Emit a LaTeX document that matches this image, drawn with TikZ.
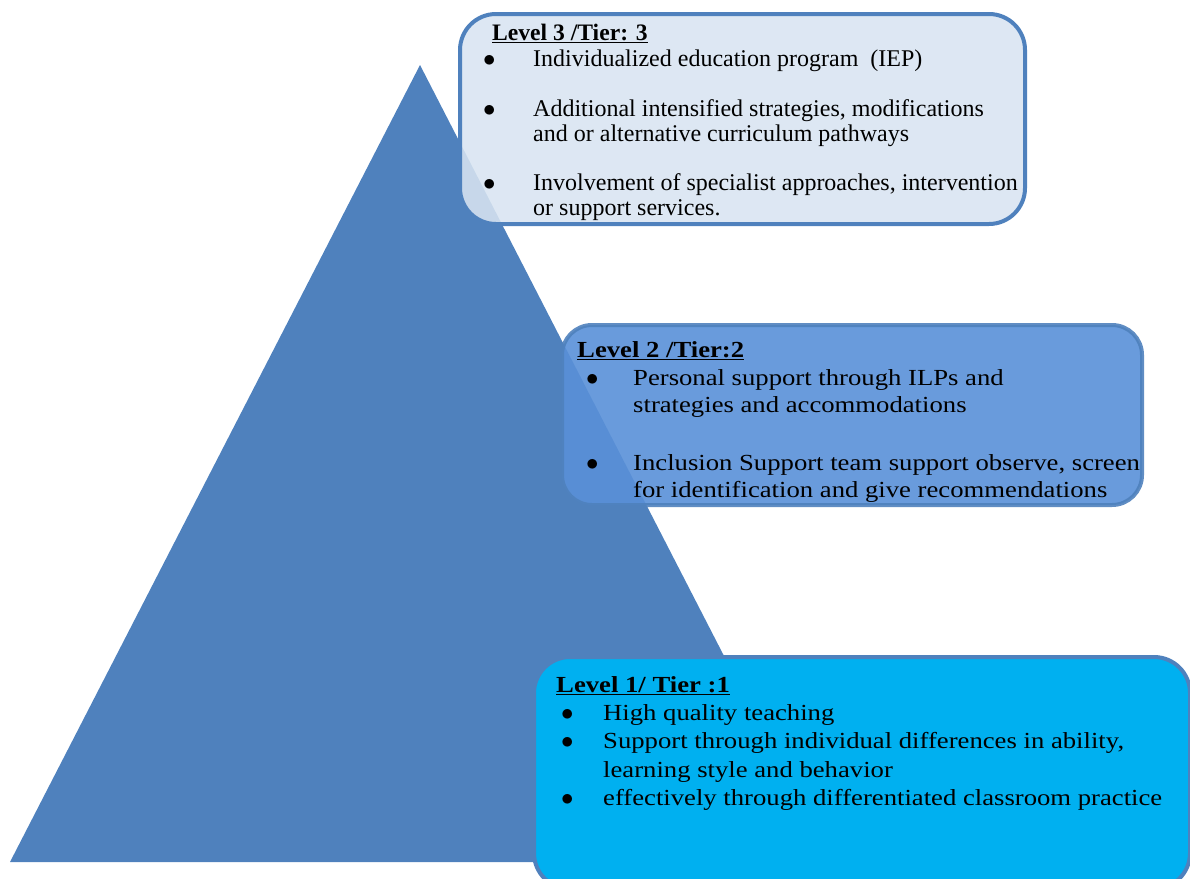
\documentclass[tikz,border=0pt]{standalone}
\usepackage{fontspec}
\setmainfont{Liberation Serif}
\newfontfamily\widefont{Liberation Serif}[FakeStretch=1.16]
\usepackage{xcolor}
\usetikzlibrary{positioning}
\definecolor{pyramid}{HTML}{4F81BD}
\definecolor{tierthree}{HTML}{D8E4F1}
\definecolor{tiertwo}{HTML}{5990D8}
\definecolor{tierone}{HTML}{00B0F0}
\newcommand{\tierhead}[1]{\underline{\textbf{#1}}}
\newcommand{\tierdot}{$\bullet$}

\begin{document}
\begin{tikzpicture}[x=1pt, y=-1pt,
    tierbox/.style={draw=pyramid, line width=4pt, rounded corners=36pt,
                    anchor=north west, inner sep=0pt},
    tiertext/.style={anchor=base west, inner sep=0pt, align=left,
                     font=\fontsize{24}{25}\selectfont},
    widetext/.style={tiertext, font=\widefont\fontsize{23}{28.5}\selectfont}
]
\useasboundingbox (0,0) rectangle (1190,878);
\clip (0,0) rectangle (1190,878);
% pyramid
\fill[pyramid] (420,65) -- (830,862) -- (10,862) -- cycle;
% tier boxes
\node[tierbox, fill=tierone, minimum width=656pt, minimum height=232pt] (tier1) at (532,655) {};
\node[tierbox, fill=tiertwo, fill opacity=0.9, draw opacity=0.9, rounded corners=30pt,
      minimum width=580pt, minimum height=180pt] (tier2) at (560,323) {};
\node[tierbox, fill=tierthree, fill opacity=0.88, minimum width=565pt, minimum height=210pt] (tier3) at (458,12) {};
% level 3
\node[tiertext, font=\fontsize{23.6}{25}\selectfont] (tier3head) at ([shift={(34,28)}]tier3.north west) {\tierhead{Level 3 /Tier: 3}};
\node[tiertext] (tier3list) at ([shift={(25,54)}]tier3.north west) {%
\begin{tabular}[t]{@{}p{50pt}@{}l@{}}
\tierdot & Individualized education program\ \ (IEP)\\[25pt]
\tierdot & Additional intensified strategies, modifications\\
         & and or alternative curriculum pathways\\[24pt]
\tierdot & Involvement of specialist approaches, intervention\\
         & or support services.
\end{tabular}};
% level 2
\node[widetext, font=\widefont\fontsize{23}{27}\selectfont] (tier2head) at ([shift={(17,34)}]tier2.north west) {\tierhead{Level 2 /Tier:2}};
\node[widetext, font=\widefont\fontsize{23}{27}\selectfont] (tier2list) at ([shift={(26,62)}]tier2.north west) {%
\begin{tabular}[t]{@{}p{47pt}@{}l@{}}
\tierdot & Personal support through ILPs and\\
         & strategies and accommodations\\[31pt]
\tierdot & Inclusion Support team support observe, screen\\
         & for identification and give recommendations
\end{tabular}};
% level 1
\node[widetext] (tier1head) at ([shift={(24,37)}]tier1.north west) {\tierhead{Level 1/ Tier :1}};
\node[widetext] (tier1list) at ([shift={(29,65)}]tier1.north west) {%
\begin{tabular}[t]{@{}p{42pt}@{}l@{}}
\tierdot & High quality teaching\\
\tierdot & Support through individual differences in ability,\\
         & learning style and behavior\\
\tierdot & effectively through differentiated classroom practice
\end{tabular}};
\end{tikzpicture}
\end{document}
